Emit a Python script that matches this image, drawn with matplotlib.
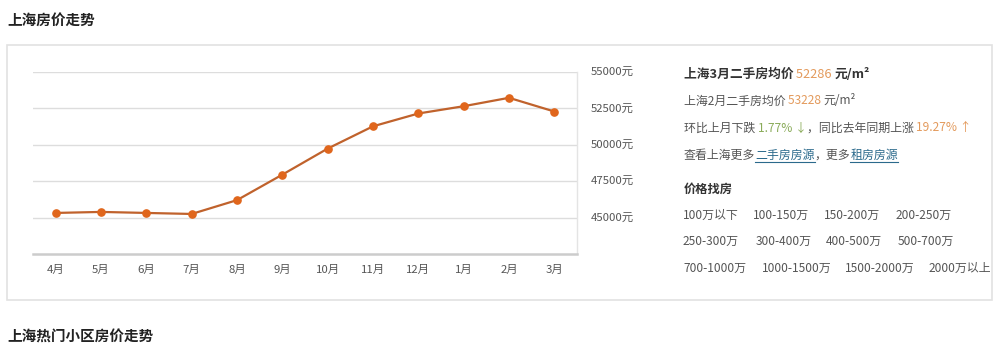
import matplotlib
matplotlib.use("Agg")
import matplotlib.pyplot as plt
from matplotlib.patches import Rectangle

plt.rcParams['font.family'] = ['Noto Sans CJK SC', 'DejaVu Sans']

# data
months = ["4月", "5月", "6月", "7月", "8月", "9月", "10月", "11月", "12月", "1月", "2月", "3月"]
prices = [45320, 45390, 45320, 45250, 46200, 47950, 49740, 51270, 52150, 52650, 53228, 52286]
yticks = [45000, 47500, 50000, 52500, 55000]

price_ranges = [
    ["100万以下", "100-150万", "150-200万", "200-250万"],
    ["250-300万", "300-400万", "400-500万", "500-700万"],
    ["700-1000万", "1000-1500万", "1500-2000万", "2000万以上"],
]

W, H = 1000, 351
fig = plt.figure(figsize=(W / 100, H / 100), dpi=100)
fig.patch.set_facecolor("white")
renderer = fig.canvas.get_renderer()


def px(x, y):
    return x / W, 1 - y / H


def txt(x, y, s, size=8.6, color="#444444", weight="normal", **kw):
    fx, fy = px(x, y)
    return fig.text(fx, fy, s, fontsize=size, color=color, weight=weight,
                    va="center", ha="left", **kw)


def run(x, y, pieces):
    # place coloured pieces one after another on a line, return their x spans
    spans = []
    for s, kw in pieces:
        t = txt(x, y, s, **kw)
        w = t.get_window_extent(renderer).width
        spans.append((x, x + w))
        x += w
    return spans


# card border
x0, y0 = px(7, 300)
x1, y1 = px(992, 45)
fig.patches.append(Rectangle((x0, y0), x1 - x0, y1 - y0, transform=fig.transFigure,
                             facecolor="white", edgecolor="#e2e2e2", linewidth=1.2, zorder=-1))

# section titles
txt(7, 20, "上海房价走势", size=10.5, color="#222222", weight="bold")
txt(7, 337, "上海热门小区房价走势", size=10.5, color="#222222", weight="bold")

# chart
left, right = 33, 577
top, bottom = 72, 254
ax = fig.add_axes([left / W, 1 - bottom / H, (right - left) / W, (bottom - top) / H])
ax.set_facecolor("none")
x = list(range(len(months)))
ax.plot(x, prices, color="#c0622c", lw=1.6, marker="o", ms=5.2,
        mfc="#e0661c", mec="#e0661c", zorder=3)
ax.set_xlim(-0.5, len(months) - 0.5)
ax.set_ylim(42500, 55000)
ax.set_yticks(yticks)
ax.set_yticklabels([f"{v}元" for v in yticks])
ax.yaxis.tick_right()
ax.set_xticks(x)
ax.set_xticklabels(months)
ax.tick_params(axis="both", length=0, labelsize=8.2, colors="#555555")
ax.tick_params(axis="y", pad=10)
ax.tick_params(axis="x", pad=8)
ax.grid(axis="y", color="#dddddd", lw=1)
for s in ["left", "top"]:
    ax.spines[s].set_visible(False)
ax.spines["bottom"].set_color("#cccccc")
ax.spines["bottom"].set_linewidth(1.8)
ax.spines["right"].set_color("#e4e4e4")
ax.spines["right"].set_linewidth(1)

# right info panel
orange = "#e39a5c"
green = "#8aab5a"
link = "#2b6a8c"
grey = dict(color="#555555")
bold = dict(size=9.2, color="#333333", weight="bold")

run(684, 74, [("上海3月二手房均价 ", bold),
              ("52286 ", dict(size=9.2, color=orange)),
              ("元/m²", bold)])
run(684, 101, [("上海2月二手房均价 ", grey),
               ("53228 ", dict(color=orange)),
               ("元/m²", grey)])
run(684, 128, [("环比上月下跌 ", grey),
               ("1.77% ↓", dict(color=green)),
               ("，同比去年同期上涨 ", grey),
               ("19.27% ↑", dict(color=orange))])
spans = run(684, 155, [("查看上海更多", grey),
                       ("二手房房源", dict(color=link)),
                       ("，更多", grey),
                       ("租房房源", dict(color=link))])
for i in (1, 3):
    a, b = spans[i]
    fig.lines.append(plt.Line2D([a / W, b / W], [1 - 162 / H] * 2,
                                transform=fig.transFigure, color=link, lw=0.8))

txt(684, 189, "价格找房", size=8.8, color="#333333", weight="bold")
row_y = [215, 241, 268]
col_x = [[683, 753, 824, 896], [683, 756, 826, 898], [683, 762, 845, 929]]
for r, row in enumerate(price_ranges):
    for c, label in enumerate(row):
        txt(col_x[r][c], row_y[r], label, **grey)

fig.savefig("out.png", dpi=100)
